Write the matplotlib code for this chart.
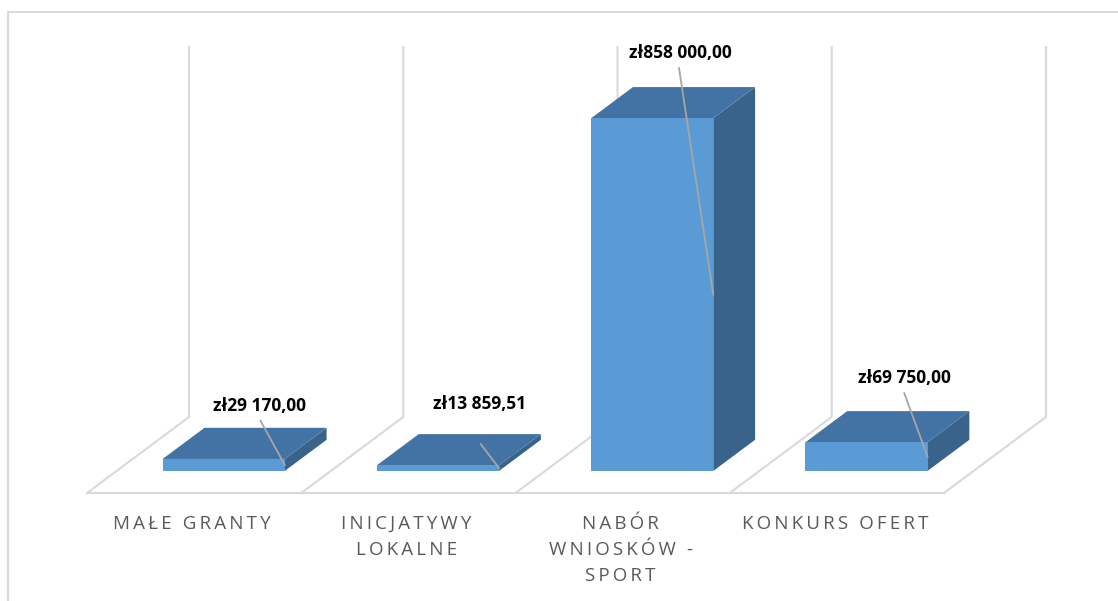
import matplotlib.pyplot as plt
from matplotlib.patches import Polygon
from matplotlib.lines import Line2D

plt.rcParams['font.family'] = ['Open Sans', 'DejaVu Sans']

# Data
categories = ["MAŁE GRANTY", "INICJATYWY\nLOKALNE", "NABÓR\nWNIOSKÓW -\nSPORT", "KONKURS OFERT"]
values = [29170.00, 13859.51, 858000.00, 69750.00]
value_labels = ["zł29 170,00", "zł13 859,51", "zł858 000,00", "zł69 750,00"]

# Layout of the pseudo-3D box (pixels)
W, H = 1118, 601
X0, CAT_W = 87, 214.25      # front-left floor corner, width of one category
Y0, WALL_H = 493, 370       # front floor line, wall height
V_MAX = 900000
DX = 102 / CAT_W            # depth shift, in category units
DY = 76 * V_MAX / WALL_H    # depth shift, in value units
D_FRONT, D_BACK = 0.29, 0.70
BAR_W = 0.57

FRONT = "#5b9bd5"
TOP = "#4373a4"
SIDE = "#39638a"
GRID = "#d9d9d9"

# per-label nudges (pixels) and where the leader line leaves the label
label_off = [(-6, 22), (0, 30), (-14, 34), (-4, 33)]
leader_start = [(1, -15), (1, -40), (-1, -15), (0, -15)]


def proj(x, v, d):
    return x + d * DX, v + d * DY


fig = plt.figure(figsize=(W / 100, H / 100), dpi=100)
ax = fig.add_axes([0, 0, 1, 1])
ax.set_xlim(-0.5 - X0 / CAT_W, -0.5 + (W - X0) / CAT_W)
ax.set_ylim((Y0 - H) * V_MAX / WALL_H, Y0 * V_MAX / WALL_H)
ax.axis("off")

# outer chart border
fig.add_artist(Line2D([8 / W, 8 / W, 1], [0, 1 - 12 / H, 1 - 12 / H],
                      color=GRID, lw=1.5, transform=fig.transFigure))

# back wall and floor lines
n = len(categories)
for k in range(n + 1):
    b = k - 0.5
    x1, y1 = proj(b, 0, 1)
    x2, y2 = proj(b, V_MAX, 1)
    x3, y3 = proj(b, 0, 0)
    ax.plot([x2, x1, x3], [y2, y1, y3], color=GRID, lw=1.5, zorder=1,
            solid_joinstyle="miter")
fx1, fy1 = proj(-0.5, 0, 0)
fx2, fy2 = proj(n - 0.5, 0, 0)
ax.plot([fx1, fx2], [fy1, fy2], color=GRID, lw=1.5, zorder=1)

# bars
for i, v in enumerate(values):
    l, r = i - BAR_W / 2, i + BAR_W / 2
    front = [proj(l, 0, D_FRONT), proj(r, 0, D_FRONT), proj(r, v, D_FRONT), proj(l, v, D_FRONT)]
    top = [proj(l, v, D_FRONT), proj(r, v, D_FRONT), proj(r, v, D_BACK), proj(l, v, D_BACK)]
    side = [proj(r, 0, D_FRONT), proj(r, 0, D_BACK), proj(r, v, D_BACK), proj(r, v, D_FRONT)]
    ax.add_patch(Polygon(side, closed=True, fc=SIDE, ec="none", zorder=3))
    ax.add_patch(Polygon(top, closed=True, fc=TOP, ec="none", zorder=3))
    ax.add_patch(Polygon(front, closed=True, fc=FRONT, ec="none", zorder=3))

# data labels with leader lines
for i, v in enumerate(values):
    anchor = proj(i, v, D_BACK)
    ax.annotate(value_labels[i], xy=anchor, xytext=label_off[i],
                textcoords="offset pixels", ha="center", va="center",
                fontsize=12.5, fontweight="bold", color="black", zorder=5)
    px, py = ax.transData.transform(anchor)
    sx = px + label_off[i][0] + leader_start[i][0]
    sy = py + label_off[i][1] + leader_start[i][1]
    start = ax.transData.inverted().transform((sx, sy))
    end = proj(i + BAR_W / 2, v / 2, D_FRONT)
    ax.plot([start[0], end[0]], [start[1], end[1]], color="#a6a6a6", lw=1.3, zorder=4)

# category labels, letter-spaced
for i, name in enumerate(categories):
    spaced = "\n".join("\u2009".join(line) for line in name.split("\n"))
    x, y = proj(i, 0, 0)
    ax.annotate(spaced, xy=(x, y), xytext=(-2, -22), textcoords="offset pixels",
                ha="center", va="top", fontsize=13.5, color="#595959",
                linespacing=1.58)

fig.savefig("out.png", dpi=100)
